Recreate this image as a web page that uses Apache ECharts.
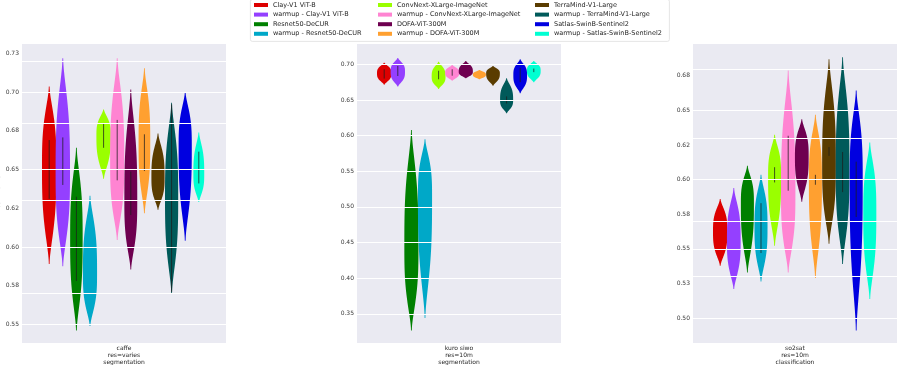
<!DOCTYPE html>
<html>
<head>
<meta charset="utf-8">
<script src="https://cdn.jsdelivr.net/npm/echarts@6/dist/echarts.min.js"></script>
<style>
html, body { margin: 0; padding: 0; background: #fff; }
#chart { width: 897px; height: 365px; }
</style>
</head>
<body>
<div id="chart"></div>
<script>
const methods = [
  'Clay-V1 ViT-B', 'warmup - Clay-V1 ViT-B', 'Resnet50-DeCUR', 'warmup - Resnet50-DeCUR',
  'ConvNext-XLarge-ImageNet', 'warmup - ConvNext-XLarge-ImageNet', 'DOFA-ViT-300M', 'warmup - DOFA-ViT-300M',
  'TerraMind-V1-Large', 'warmup - TerraMind-V1-Large', 'Satlas-SwinB-Sentinel2', 'warmup - Satlas-SwinB-Sentinel2'
]
const colors = [
  '#dd0000', '#9440ff', '#008000', '#00a8c8',
  '#9aff00', '#ff84d2', '#6e0050', '#ffa030',
  '#5a3c00', '#005a5a', '#0000e0', '#00ffd2'
]

// violin extent per method: [min, widest value, max]
const caffe = [
  [0.589, 0.652, 0.7035], [0.5876, 0.648, 0.7218], [0.546, 0.605, 0.664], [0.549, 0.583, 0.633],
  [0.644, 0.672, 0.6888], [0.6045, 0.655, 0.7218], [0.5855, 0.630, 0.7017], [0.6217, 0.667, 0.7153],
  [0.624, 0.645, 0.6733], [0.570, 0.632, 0.693], [0.604, 0.665, 0.700], [0.629, 0.647, 0.6738]
]
const kuroSiwo = [
  [0.6715, 0.6874, 0.7023], [0.6687, 0.6897, 0.7089], [0.3266, 0.445, 0.608], [0.344, 0.515, 0.595],
  [0.6654, 0.683, 0.7037], [0.677, 0.688, 0.699], [0.6804, 0.6897, 0.7047], [0.679, 0.6855, 0.692],
  [0.670, 0.6874, 0.6977], [0.6313, 0.650, 0.6804], [0.6593, 0.685, 0.707], [0.6748, 0.6911, 0.7047]
]
const so2sat = [
  [0.5378, 0.5626, 0.586], [0.521, 0.556, 0.5939], [0.533, 0.583, 0.610], [0.5265, 0.566, 0.6035],
  [0.5522, 0.6023, 0.6324], [0.533, 0.590, 0.6789], [0.584, 0.6167, 0.6437], [0.529, 0.600, 0.6468],
  [0.5537, 0.610, 0.687], [0.539, 0.607, 0.6885], [0.491, 0.600, 0.6644], [0.5137, 0.576, 0.6269]
]
// relative density peak of each violin
const caffeDensity = [1.0, 1.0, 0.86, 0.98, 1.0, 0.98, 0.89, 0.8, 0.91, 0.91, 0.91, 0.74]
const kuroSiwoDensity = [1.0, 1.0, 0.98, 0.98, 0.96, 0.98, 0.98, 0.9, 0.95, 0.9, 0.95, 0.95]
const so2satDensity = [1.0, 0.95, 0.9, 0.9, 0.9, 1.0, 0.95, 0.9, 0.95, 0.95, 0.9, 0.9]
// inner box [low, high], null where none shows
const caffeBox = [
  [0.631, 0.669], [0.640, 0.6707], [0.578, 0.6324], null,
  [0.664, 0.680], [0.643, 0.682], [0.6206, 0.6486], [0.649, 0.6727],
  null, [0.571, 0.692], null, [0.641, 0.6615]
]
const kuroSiwoBox = [
  [0.680, 0.693], [0.6836, 0.6977], null, null,
  [0.679, 0.691], [0.684, 0.693], null, null,
  null, [0.645, 0.655], [0.675, 0.695], [0.689, 0.694]
]
const so2satBox = [
  null, null, null, [0.547, 0.583],
  [0.598, 0.609], [0.592, 0.6317], null, [0.5963, 0.6035],
  [0.6172, 0.6235], [0.591, 0.620], [0.573, 0.613], null
]

const caffeTicks = [0.55, 0.575, 0.6, 0.625, 0.65, 0.675, 0.7, 0.725]
const caffeTickLabels = ['0.55', '0.58', '0.60', '0.62', '0.65', '0.68', '0.70', '0.73']
const kuroSiwoTicks = [0.35, 0.4, 0.45, 0.5, 0.55, 0.6, 0.65, 0.7]
const kuroSiwoTickLabels = ['0.35', '0.40', '0.45', '0.50', '0.55', '0.60', '0.65', '0.70']
const so2satTicks = [0.5, 0.525, 0.55, 0.575, 0.6, 0.625, 0.65, 0.675]
const so2satTickLabels = ['0.50', '0.53', '0.55', '0.58', '0.60', '0.62', '0.65', '0.68']

const panels = [
  { label: 'caffe\nres=varies\nsegmentation', data: caffe, density: caffeDensity, box: caffeBox,
    ticks: caffeTicks, tickLabels: caffeTickLabels, min: 0.538, max: 0.731, left: 22, right: 671 },
  { label: 'kuro siwo\nres=10m\nsegmentation', data: kuroSiwo, density: kuroSiwoDensity, box: kuroSiwoBox,
    ticks: kuroSiwoTicks, tickLabels: kuroSiwoTickLabels, min: 0.309, max: 0.7285, left: 357, right: 336 },
  { label: 'so2sat\nres=10m\nclassification', data: so2sat, density: so2satDensity, box: so2satBox,
    ticks: so2satTicks, tickLabels: so2satTickLabels, min: 0.482, max: 0.698, left: 693, right: 0 }
]

const font = 'DejaVu Sans'

function violin(idx, box) {
  return function (params, api) {
    const lo = api.value(1), mode = api.value(2), hi = api.value(3), dens = api.value(4)
    const band = api.size([1, 0])[0]
    const slot = band * 0.8 / methods.length
    const cx = api.coord([0, mode])[0] + (idx - (methods.length - 1) / 2) * slot
    const half = slot / 2 * dens
    const n = 80
    const rightSide = [], leftSide = []
    for (let k = 0; k <= n; k++) {
      const v = lo + (hi - lo) * k / n
      const t = v < mode ? (mode - v) / (mode - lo) : (v - mode) / (hi - mode)
      // kde-like outline: flat body, thin tails
      const w = half * Math.pow(1 - Math.pow(Math.min(t, 1), 3), 1.8) + 0.4
      const y = api.coord([0, v])[1]
      rightSide.push([cx + w, y])
      leftSide.unshift([cx - w, y])
    }
    const children = [{
      type: 'polygon',
      shape: { points: rightSide.concat(leftSide) },
      style: { fill: api.visual('color'), stroke: null }
    }]
    if (box) {
      const y1 = api.coord([0, box[0]])[1], y2 = api.coord([0, box[1]])[1]
      children.push({
        type: 'line',
        shape: { x1: cx, y1: y1, x2: cx, y2: y2 },
        style: { stroke: 'rgba(30,30,30,0.75)', lineWidth: 1 }
      })
    }
    return { type: 'group', children: children }
  }
}

const grid = [], xAxis = [], yAxis = [], series = []
panels.forEach((p, pi) => {
  grid.push({
    left: p.left, right: p.right, top: 44, bottom: 22, show: true,
    backgroundColor: '#eaeaf2', borderWidth: 0, containLabel: false, outerBoundsMode: 'none'
  })
  xAxis.push({
    type: 'category', gridIndex: pi, data: [p.label],
    axisLine: { show: false }, axisTick: { show: false }, splitLine: { show: false },
    axisLabel: { fontSize: 6, lineHeight: 7, margin: 1.5, color: '#262626', fontFamily: font }
  })
  yAxis.push({
    type: 'value', gridIndex: pi, min: p.min, max: p.max,
    name: pi === 0 ? 'test metric' : '', nameLocation: 'middle', nameGap: 15,
    nameTextStyle: { fontSize: 6.5, color: '#262626', fontFamily: font },
    axisLine: { show: false }, axisTick: { show: false }, splitLine: { show: false },
    axisLabel: {
      customValues: p.ticks, fontSize: 6, margin: 3, color: '#3a3a3a', fontFamily: font,
      formatter: v => p.tickLabels[p.ticks.indexOf(v)]
    }
  })
  series.push({
    type: 'line', xAxisIndex: pi, yAxisIndex: pi, data: [], z: 1, silent: true,
    markLine: {
      silent: true, symbol: 'none', animation: false, label: { show: false },
      lineStyle: { color: '#ffffff', width: 1, type: 'solid' },
      data: p.ticks.map(v => ({ yAxis: v }))
    }
  })
  methods.forEach((m, mi) => {
    series.push({
      type: 'custom', name: m, xAxisIndex: pi, yAxisIndex: pi, z: 3,
      itemStyle: { color: colors[mi] },
      renderItem: violin(mi, p.box[mi]),
      encode: { x: 0, y: 2 },
      data: [[0].concat(p.data[mi], [p.density[mi]])]
    })
  })
})

const legendLefts = [254, 378, 535]
const legend = legendLefts.map((left, c) => ({
  orient: 'vertical', left: left, top: 0.2, padding: 0,
  itemWidth: 14, itemHeight: 4, itemGap: 0, icon: 'rect', selectedMode: false,
  data: methods.slice(c * 4, c * 4 + 4),
  textStyle: { fontSize: 6.5, lineHeight: 9.6, color: '#262626', fontFamily: font }
}))

const chart = echarts.init(document.getElementById('chart'))
chart.setOption({
  animation: false,
  backgroundColor: '#ffffff',
  graphic: [{
    type: 'rect', left: 250, top: -1, z: 0,
    shape: { width: 419, height: 42, r: 2 },
    style: { fill: '#ffffff', stroke: '#dedede', lineWidth: 0.8 }
  }],
  legend: legend,
  grid: grid,
  xAxis: xAxis,
  yAxis: yAxis,
  series: series
})
window.addEventListener('resize', () => chart.resize())
</script>
</body>
</html>
